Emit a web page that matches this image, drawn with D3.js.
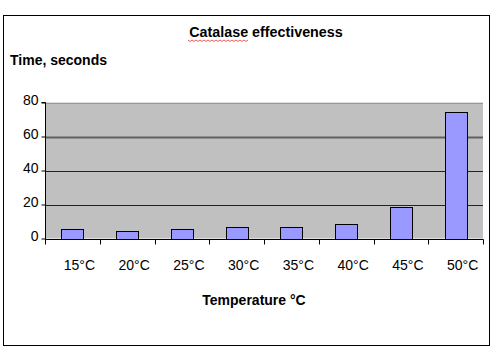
<!DOCTYPE html>
<html><head><meta charset="utf-8">
<script src="https://cdn.jsdelivr.net/npm/d3@7"></script>
<style>body{margin:0;background:#fff}svg{display:block}text{font-family:"Liberation Sans",Arial,sans-serif}</style>
</head><body>
<script>
const categories = ["15°C","20°C","25°C","30°C","35°C","40°C","45°C","50°C"];
const values = [5.5, 4.3, 5.5, 6.6, 6.6, 8.4, 18.5, 74.7];
const yTicks = [0, 20, 40, 60, 80];
const title = "Catalase effectiveness";
const yTitle = "Time, seconds";
const xTitle = "Temperature °C";

const W = 500, H = 355;
const m = {left: 45, right: 483, top: 102.5, bottom: 238.5};
const svg = d3.select("body").append("svg").attr("width", W).attr("height", H);
svg.append("rect").attr("x",3.5).attr("y",15.5).attr("width",486).attr("height",330)
  .attr("fill","#fff").attr("stroke","#000").attr("stroke-width",1);

const x = d3.scaleBand().domain(categories).range([m.left, m.right]).paddingInner(0.6).paddingOuter(0.3);
const y = d3.scaleLinear().domain([0, 80]).range([m.bottom, m.top]);

svg.append("rect").attr("x", m.left).attr("y", y(80)).attr("width", m.right - m.left)
  .attr("height", y(0) - y(80)).attr("fill", "#c0c0c0");

// gridlines
svg.append("g").selectAll("line").data(yTicks.filter(d => d > 0)).join("line")
  .attr("x1", m.left).attr("x2", m.right)
  .attr("y1", d => Math.round(y(d)) + 0.5).attr("y2", d => Math.round(y(d)) + 0.5)
  .attr("stroke", d => d === 60 ? "#606060" : d === 80 ? "#999" : "#222")
  .attr("stroke-width", d => d === 60 ? 2 : 1);

// bars
svg.append("g").selectAll("rect").data(values).join("rect")
  .attr("x", (d,i) => Math.round(x(categories[i])) + 0.5)
  .attr("y", d => Math.round(y(d)) + 0.5)
  .attr("width", Math.round(x.bandwidth()))
  .attr("height", d => Math.round(y(0)) - Math.round(y(d)))
  .attr("fill", "#9999ff").attr("stroke", "#000").attr("stroke-width", 1);

// y axis
const yAxis = d3.axisLeft(y).tickValues(yTicks).tickSize(4).tickPadding(3);
const gy = svg.append("g").attr("transform", `translate(${m.left + 0.5},0)`).call(yAxis);
gy.select(".domain").attr("stroke", "#000").attr("d", `M-4,${m.top}H0V${m.bottom + 5}`);
gy.selectAll(".tick line").attr("stroke", "#000");
gy.selectAll(".tick text").attr("font-size", 14).attr("fill", "#000").attr("y", -2)
  .attr("font-family", '"Liberation Sans",Arial,sans-serif');

// x axis
const xb = d3.scaleBand().domain(categories).range([m.left, m.right]);
const gx = svg.append("g").attr("transform", `translate(0,${Math.round(y(0)) + 0.5})`);
gx.append("line").attr("x1", m.left).attr("x2", m.right + 0.5).attr("stroke", "#000");
gx.selectAll("line.sep").data(categories.concat(["end"])).join("line").attr("class","sep")
  .attr("x1", (d,i) => Math.round(m.left + i * xb.bandwidth()) + 0.5)
  .attr("x2", (d,i) => Math.round(m.left + i * xb.bandwidth()) + 0.5)
  .attr("y1", 0).attr("y2", 5).attr("stroke", "#000");
gx.selectAll("text").data(categories).join("text")
  .attr("x", d => xb(d) + xb.bandwidth() / 2 + 7)
  .attr("y", 30).attr("text-anchor", "middle").attr("font-size", 14).attr("fill", "#000")
  .text(d => d);

// titles
svg.append("text").attr("x", 266).attr("y", 37).attr("text-anchor", "middle")
  .attr("font-size", 14.3).attr("font-weight", "bold").text(title);
// spell-check squiggle under "Catalase"
const sq = d3.range(0, 31).map(i => [188 + i * 2, 40 + (i % 2 ? 1.5 : 0)]);
svg.append("path").attr("d", d3.line()(sq)).attr("fill", "none").attr("stroke", "#e03030").attr("stroke-width", 0.8);
svg.append("text").attr("x", 10).attr("y", 65).attr("font-size", 14).attr("font-weight", "bold").text(yTitle);
svg.append("text").attr("x", 254).attr("y", 305).attr("text-anchor", "middle")
  .attr("font-size", 14).attr("font-weight", "bold").text(xTitle);
</script>
</body></html>
